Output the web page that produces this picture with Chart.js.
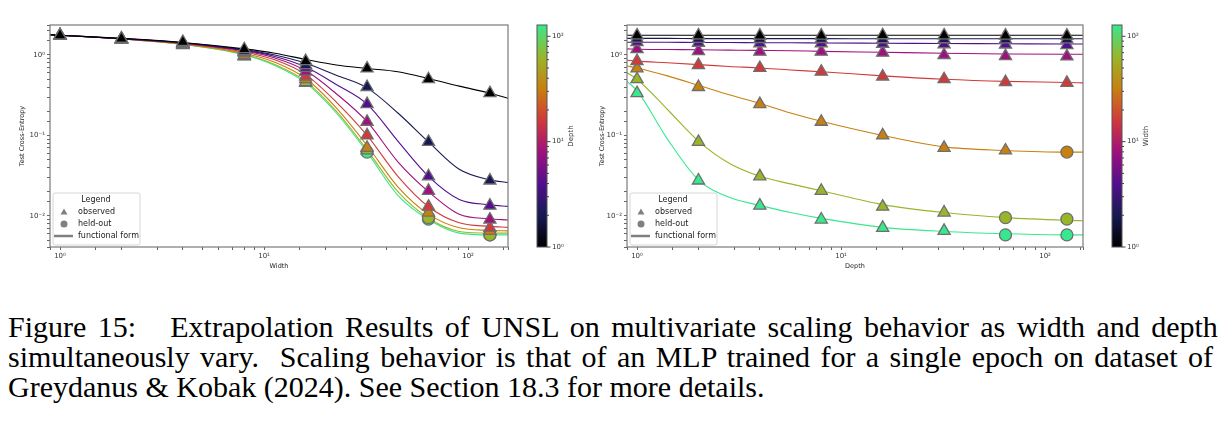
<!DOCTYPE html>
<html>
<head>
<meta charset="utf-8">
<script src="https://cdn.jsdelivr.net/npm/chart.js@4.4.1/dist/chart.umd.min.js"></script>
<style>
body { margin: 0; background: #fff; width: 1218px; height: 422px; overflow: hidden; position: relative; }
#caption { position: absolute; left: 8px; top: 312px; width: 1202px; font-family: "Liberation Serif", serif; font-size: 30px; line-height: 30px; color: #000; }
#caption div { white-space: nowrap; }
</style>
</head>
<body>
<canvas id="leftChart" width="580" height="280" style="position:absolute;left:0;top:0"></canvas>
<canvas id="rightChart" width="638" height="280" style="position:absolute;left:580px;top:0"></canvas>
<div id="caption">
  <div class="just">Figure 15:&nbsp;&nbsp; Extrapolation Results of UNSL on multivariate scaling behavior as width and depth</div>
  <div class="just">simultaneously vary.&nbsp; Scaling behavior is that of an MLP trained for a single epoch on dataset of</div>
  <div>Greydanus &amp; Kobak (2024). See Section 18.3 for more details.</div>
</div>
<script>
//////////////////////////////////////// DATA
const widths = [1, 2, 4, 8, 16, 32, 64, 128];
const depths = [1, 2, 4, 8, 16, 32, 64, 128];

// test cross-entropy, one row per depth, columns follow widths
const lossD1   = [1.75, 1.60, 1.45, 1.18, 0.84, 0.68, 0.50, 0.335];
const lossD2   = [1.75, 1.59, 1.42, 1.12, 0.75, 0.40, 0.083, 0.0275];
const lossD4   = [1.74, 1.58, 1.40, 1.10, 0.69, 0.245, 0.031, 0.0134];
const lossD8   = [1.74, 1.58, 1.40, 1.10, 0.62, 0.148, 0.0205, 0.0090];
const lossD16  = [1.76, 1.57, 1.38, 1.07, 0.54, 0.100, 0.0130, 0.0071];
const lossD32  = [1.75, 1.57, 1.36, 1.00, 0.50, 0.070, 0.0110, 0.0065];
const lossD64  = [1.74, 1.56, 1.35, 0.97, 0.46, 0.065, 0.0095, 0.0058];
const lossD128 = [1.74, 1.56, 1.33, 0.96, 0.45, 0.062, 0.0091, 0.0058];
const lossByDepth = [lossD1, lossD2, lossD4, lossD8, lossD16, lossD32, lossD64, lossD128];

// held-out cells as [depth index, width index]
const heldOut = [[7, 5], [6, 6], [7, 6], [6, 7], [7, 7]];

// fitted functional form, left panel (x = width), one curve per depth
const leftGrid = [0.893, 1, 2, 4, 8, 11.3, 16, 22.6, 32, 45.3, 64, 90.5, 128, 157];
const leftCurves = [
  [1.79, 1.76, 1.61, 1.43, 1.19, 1.05, 0.88, 0.75, 0.68, 0.62, 0.51, 0.41, 0.335, 0.29],
  [1.79, 1.76, 1.60, 1.42, 1.16, 1.00, 0.79, 0.56, 0.39, 0.19, 0.083, 0.038, 0.028, 0.026],
  [1.79, 1.76, 1.60, 1.41, 1.14, 0.96, 0.71, 0.43, 0.245, 0.085, 0.031, 0.016, 0.0137, 0.0131],
  [1.79, 1.76, 1.59, 1.40, 1.12, 0.92, 0.64, 0.33, 0.148, 0.047, 0.020, 0.0105, 0.0092, 0.0089],
  [1.79, 1.76, 1.59, 1.39, 1.09, 0.87, 0.57, 0.26, 0.100, 0.031, 0.013, 0.0082, 0.0074, 0.0072],
  [1.79, 1.76, 1.58, 1.37, 1.05, 0.81, 0.51, 0.22, 0.075, 0.023, 0.0105, 0.0071, 0.0066, 0.0065],
  [1.79, 1.76, 1.58, 1.36, 1.02, 0.76, 0.47, 0.20, 0.066, 0.020, 0.0094, 0.0064, 0.0061, 0.0061],
  [1.79, 1.76, 1.58, 1.35, 1.00, 0.74, 0.45, 0.19, 0.062, 0.018, 0.0090, 0.0061, 0.0058, 0.0058]
];

// fitted functional form, right panel (x = depth), one curve per width
const rightGrid = [0.893, 1, 1.41, 2, 2.83, 4, 5.66, 8, 16, 32, 64, 128, 154];
const rightCurves = [
  [1.76, 1.76, 1.76, 1.76, 1.76, 1.76, 1.76, 1.76, 1.76, 1.76, 1.76, 1.76, 1.76],
  [1.61, 1.61, 1.61, 1.60, 1.60, 1.60, 1.60, 1.60, 1.59, 1.59, 1.59, 1.59, 1.59],
  [1.44, 1.44, 1.44, 1.43, 1.43, 1.42, 1.42, 1.41, 1.40, 1.39, 1.38, 1.37, 1.37],
  [1.19, 1.18, 1.17, 1.16, 1.15, 1.14, 1.13, 1.11, 1.08, 1.05, 1.03, 1.02, 1.02],
  [0.86, 0.84, 0.80, 0.76, 0.72, 0.69, 0.65, 0.62, 0.55, 0.50, 0.47, 0.455, 0.45],
  [0.73, 0.69, 0.55, 0.42, 0.32, 0.25, 0.19, 0.15, 0.10, 0.072, 0.065, 0.062, 0.062],
  [0.60, 0.50, 0.21, 0.085, 0.045, 0.031, 0.025, 0.0205, 0.0138, 0.011, 0.0095, 0.0088, 0.0087],
  [0.47, 0.36, 0.09, 0.028, 0.017, 0.0135, 0.011, 0.0093, 0.0072, 0.0064, 0.0060, 0.0058, 0.0058]
];

// colours of 1,2,4,...,128 on the colour bar
const seriesColors = ['#000000', '#171a52', '#520f8e', '#a0107e', '#d03a3a', '#c8800f', '#98b62a', '#38e88e'];

//////////////////////////////////////// HELPERS
const SUP = {'-': '\u207b', '0': '\u2070', '1': '\u00b9', '2': '\u00b2', '3': '\u00b3', '4': '\u2074',
             '5': '\u2075', '6': '\u2076', '7': '\u2077', '8': '\u2078', '9': '\u2079'};
function powLabel(v) {
  const e = Math.log10(v);
  if (Math.abs(e - Math.round(e)) > 1e-6) return '';
  return '10' + String(Math.round(e)).split('').map(c => SUP[c]).join('');
}
const FONT = '"DejaVu Sans", sans-serif';

function isHeld(di, wi) {
  return heldOut.some(h => h[0] === di && h[1] === wi);
}

function drawLegend(ctx, x, y) {
  ctx.save();
  ctx.fillStyle = 'rgba(255,255,255,0.85)';
  ctx.strokeStyle = '#d6d6d6';
  ctx.lineWidth = 1;
  ctx.beginPath();
  ctx.roundRect(x, y, 87, 52, 2);
  ctx.fill();
  ctx.stroke();
  ctx.fillStyle = '#222';
  ctx.font = '8px ' + FONT;
  ctx.textBaseline = 'middle';
  ctx.textAlign = 'center';
  ctx.fillText('Legend', x + 43, y + 7);
  ctx.textAlign = 'left';
  ctx.fillText('observed', x + 25, y + 19);
  ctx.fillText('held-out', x + 25, y + 31);
  ctx.fillText('functional form', x + 25, y + 43);
  ctx.fillStyle = '#808080';
  ctx.beginPath();
  ctx.moveTo(x + 11, y + 15.5); ctx.lineTo(x + 14.5, y + 21.5); ctx.lineTo(x + 7.5, y + 21.5);
  ctx.closePath(); ctx.fill();
  ctx.beginPath(); ctx.arc(x + 11, y + 31, 3.5, 0, Math.PI * 2); ctx.fill();
  ctx.strokeStyle = '#808080'; ctx.lineWidth = 2.5;
  ctx.beginPath(); ctx.moveTo(x + 1, y + 43); ctx.lineTo(x + 20, y + 43); ctx.stroke();
  ctx.restore();
}

function drawColorbar(ctx, x, top, bottom, label) {
  const w = 10;
  ctx.save();
  const g = ctx.createLinearGradient(0, bottom, 0, top);
  seriesColors.forEach((c, i) => g.addColorStop(i / 7, c));
  ctx.fillStyle = g;
  ctx.fillRect(x, top, w, bottom - top);
  ctx.strokeStyle = '#555'; ctx.lineWidth = 1;
  ctx.strokeRect(x, top, w, bottom - top);
  const yOf = v => bottom - Math.log2(v) / 7 * (bottom - top);
  ctx.strokeStyle = '#444';
  ctx.fillStyle = '#333';
  ctx.font = '7px ' + FONT;
  ctx.textBaseline = 'middle';
  [1, 2, 3, 4, 5, 6, 7, 8, 9, 10, 20, 30, 40, 50, 60, 70, 80, 90, 100].forEach(v => {
    const major = v === 1 || v === 10 || v === 100;
    const y = yOf(v);
    ctx.beginPath(); ctx.moveTo(x + w, y); ctx.lineTo(x + w + (major ? 3.5 : 2), y); ctx.stroke();
    if (major) ctx.fillText(powLabel(v), x + w + 5, y);
  });
  ctx.translate(x + w + 24, (top + bottom) / 2);
  ctx.rotate(-Math.PI / 2);
  ctx.textAlign = 'center';
  ctx.fillText(label, 0, 0);
  ctx.restore();
}

const decor = {
  id: 'decor',
  afterDraw(chart, args, o) {
    const {ctx, chartArea: a} = chart;
    ctx.save();
    ctx.strokeStyle = '#7a7a7a'; ctx.lineWidth = 1.2;
    ctx.strokeRect(a.left, a.top, a.right - a.left, a.bottom - a.top);
    ctx.restore();
    drawLegend(ctx, a.left + 3, a.bottom - 54);
    drawColorbar(ctx, o.cbLeft, a.top, a.bottom, o.cbLabel);
  }
};

function axisFont(size) { return {family: FONT, size: size}; }

function buildChart(id, cfg) {
  const datasets = [];
  cfg.curves.forEach((c, i) => datasets.push({
    data: cfg.grid.map((x, k) => ({x: x, y: c[k]})),
    borderColor: seriesColors[i], borderWidth: 1.1, pointRadius: 0,
    fill: false, cubicInterpolationMode: 'monotone', order: 100 + i
  }));
  cfg.points.forEach((p, i) => datasets.push({
    data: p.map(q => ({x: q.x, y: q.y})),
    showLine: false,
    pointStyle: p.map(q => q.held ? 'circle' : 'triangle'),
    pointRadius: p.map(q => q.held ? 6 : 7),
    pointBackgroundColor: seriesColors[i],
    pointBorderColor: '#6e6e6e', pointBorderWidth: 1.3,
    order: i
  }));

  new Chart(document.getElementById(id).getContext('2d'), {
    type: 'line',
    data: {datasets: datasets},
    options: {
      responsive: false, animation: false,
      layout: {padding: {left: 0, top: 25, right: cfg.padRight, bottom: 0}},
      plugins: {legend: {display: false}, tooltip: {enabled: false}, decor: {cbLeft: cfg.cbLeft, cbLabel: cfg.cbLabel}},
      scales: {
        x: {
          type: 'logarithmic', min: cfg.xMin, max: cfg.xMax,
          grid: {drawOnChartArea: false, tickLength: 3, color: '#666'},
          border: {display: false},
          ticks: {autoSkip: false, maxRotation: 0, padding: 2, color: '#333', font: axisFont(7), callback: powLabel},
          title: {display: true, text: cfg.xTitle, color: '#222', font: axisFont(6.5), padding: {top: 0, bottom: 10}},
          afterFit: s => { s.height = 33; }
        },
        y: {
          type: 'logarithmic', min: 0.0041, max: 2.36,
          grid: {drawOnChartArea: false, tickLength: 3, color: '#666'},
          border: {display: false},
          ticks: {autoSkip: false, padding: 2, color: '#333', font: axisFont(7), callback: powLabel},
          title: {display: true, text: 'Test Cross-Entropy', color: '#222', font: axisFont(6.5), padding: {top: 18, bottom: 0}},
          afterFit: s => { s.width = cfg.yWidth; }
        }
      }
    },
    plugins: [decor]
  });
}

//////////////////////////////////////// LEFT: x = width, colour = depth
const leftPoints = depths.map((d, di) => widths.map((w, wi) => ({x: w, y: lossByDepth[di][wi], held: isHeld(di, wi)})));
buildChart('leftChart', {
  grid: leftGrid, curves: leftCurves, points: leftPoints,
  xMin: 0.893, xMax: 157, xTitle: 'Width', yWidth: 50, padRight: 72,
  cbLeft: 537, cbLabel: 'Depth'
});

//////////////////////////////////////// RIGHT: x = depth, colour = width
const rightPoints = widths.map((w, wi) => depths.map((d, di) => ({x: d, y: lossByDepth[di][wi], held: isHeld(di, wi)})));
buildChart('rightChart', {
  grid: rightGrid, curves: rightCurves, points: rightPoints,
  xMin: 0.893, xMax: 153.5, xTitle: 'Depth', yWidth: 47, padRight: 135,
  cbLeft: 532, cbLabel: 'Width'
});

//////////////////////////////////////// caption justification
document.querySelectorAll('#caption .just').forEach(el => {
  const span = document.createElement('span');
  span.innerHTML = el.innerHTML;
  el.innerHTML = '';
  el.appendChild(span);
  const natural = span.getBoundingClientRect().width;
  const gaps = (span.textContent.match(/ /g) || []).length;
  if (gaps > 0) el.style.wordSpacing = ((1202 - natural) / gaps) + 'px';
});
</script>
</body>
</html>
